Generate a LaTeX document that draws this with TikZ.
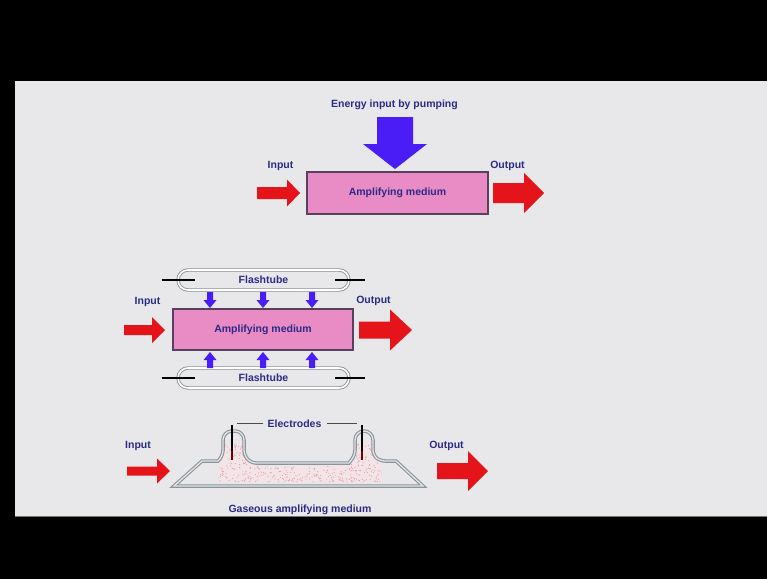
\documentclass[tikz,border=0pt]{standalone}
\usepackage{fontspec}
\setmainfont{Liberation Sans}
\usetikzlibrary{calc}

\definecolor{panel}{HTML}{E8E8EA}
\definecolor{navy}{HTML}{2B2A86}
\definecolor{mediumpink}{HTML}{E98CC6}
\definecolor{mediumedge}{HTML}{5A4060}
\definecolor{pumpred}{HTML}{E5141B}
\definecolor{pumpblue}{HTML}{4A1CF6}
\definecolor{tubegray}{HTML}{8C9399}
\definecolor{tubelight}{HTML}{E2E5E8}
\definecolor{gasfill}{HTML}{F3E4E8}
\definecolor{gasdot}{HTML}{E6A0AE}

% horizontal block arrow: colour, x start, x tip, y, shaft half-width, head half-width, head length
\newcommand{\blockH}[7]{%
  \pgfmathsetmacro\hbase{#3-#7}%
  \fill[#1] (#2,{#4-#5}) -- (\hbase,{#4-#5}) -- (\hbase,{#4-#6}) -- (#3,#4)
    -- (\hbase,{#4+#6}) -- (\hbase,{#4+#5}) -- (#2,{#4+#5}) -- cycle;}
% vertical block arrow: colour, x, y start, y tip, shaft half-width, head half-width, head length
\newcommand{\blockV}[7]{%
  \pgfmathsetmacro\vbase{#4-#7*sign(#4-#3)}%
  \fill[#1] ({#2-#5},#3) -- ({#2-#5},\vbase) -- ({#2-#6},\vbase) -- (#2,#4)
    -- ({#2+#6},\vbase) -- ({#2+#5},\vbase) -- ({#2+#5},#3) -- cycle;}

\begin{document}
\begin{tikzpicture}[x=1pt,y=-1pt,
  lbl/.style={font=\bfseries\fontsize{10.5}{12}\selectfont, text=navy, inner sep=0pt, anchor=base},
  medium/.style={draw=mediumedge, line width=1.2pt, fill=mediumpink,
    font=\bfseries\fontsize{10.5}{12}\selectfont, text=navy, inner sep=0pt},
  flashtube/.style={draw=tubegray, double=white, double distance=1.6pt, line width=0.9pt,
    rounded corners=10pt, minimum width=171pt, minimum height=20pt,
    font=\bfseries\fontsize{10.5}{12}\selectfont, text=navy, inner sep=0pt},
  lead/.style={black, line width=1.6pt},
  tube/.style={draw=tubegray, double=tubelight, double distance=1.3pt, line width=1.1pt},
  tick/.style={draw=black!70, line width=0.9pt}]

% frame and panel
\useasboundingbox (0,0) rectangle (767,579);
\fill[black] (0,0) rectangle (767,579);
\fill[panel] (15,81) rectangle (767,517);
\draw[black!55, line width=1.5pt] (15,516.5) -- (767,516.5);

% ---------- pumped amplifier ----------
\node[lbl] (energy) at (394.5,107.5) {Energy input by pumping};
\node[medium, minimum width=181pt, minimum height=42pt] (med1) at (397.5,193) {Amplifying medium};
\node[lbl] (in1) at (280.5,168.5) {Input};
\node[lbl] (out1) at (507.5,168.5) {Output};
\blockV{pumpblue}{395}{117}{169}{18}{32}{25}
\blockH{pumpred}{257}{300}{193}{6}{13.5}{13}
\blockH{pumpred}{493}{544}{193}{10}{20}{20}

% ---------- flashtube-pumped amplifier ----------
\node[flashtube] (ft1) at (263.5,280) {Flashtube};
\node[flashtube] (ft2) at (263.5,378) {Flashtube};
\foreach \t in {ft1,ft2}{
  \draw[lead] ($(\t.west)+(-16,0)$) -- ($(\t.west)+(17,0)$);
  \draw[lead] ($(\t.east)+(-14,0)$) -- ($(\t.east)+(16,0)$);
}
\node[medium, minimum width=180pt, minimum height=41pt] (med2) at (263,329.5) {Amplifying medium};
\node[lbl] (in2) at (147.5,304) {Input};
\node[lbl] (out2) at (373.5,303) {Output};
\foreach \x in {210,263,312}{
  \blockV{pumpblue}{\x}{292}{308}{3}{6.5}{8}
  \blockV{pumpblue}{\x}{368}{352}{3}{6.5}{8}
}
\blockH{pumpred}{124}{165}{330}{5}{13}{13}
\blockH{pumpred}{359}{412}{330}{8.5}{20.5}{22}

% ---------- gas discharge amplifier ----------
% gas inside the tube
\begin{scope}
  \clip (223,444) -- (243,444) -- (245,457) -- (253,466) -- (349,466) -- (356,457)
    -- (357,444) -- (372,444) -- (374,457) -- (382,470) -- (382,482) -- (218,482)
    -- (218,470) -- cycle;
  \fill[gasfill] (210,430) rectangle (390,490);
  \pgfmathsetseed{17}
  \foreach \i in {1,...,650}{
    \pgfmathsetmacro\rx{216+168*rnd}
    \pgfmathsetmacro\ry{442+42*rnd}
    \fill[gasdot] (\rx,\ry) circle (0.6);
  }
\end{scope}
% glass envelope
\draw[tube] (174,486) -- (202,461) -- (218,461)
  [rounded corners=5] -- (223,455) [rounded corners=9] -- (223,431) -- (244,431)
  [rounded corners=5] -- (244,455) -- (251,463) [sharp corners] -- (349,463)
  [rounded corners=5] -- (355,455) [rounded corners=9] -- (355,431) -- (373,431)
  [rounded corners=5] -- (373,455) -- (380,461) [sharp corners] -- (396,461)
  -- (423,486) -- cycle;
% electrodes
\coordinate (e1) at (232,425);
\coordinate (e2) at (362,425);
\foreach \e in {e1,e2}{
  \draw[black, line width=1.4pt] (\e) -- ++(0,26);
  \draw[red!45!black, line width=1.4pt] ($(\e)+(0,26)$) -- ++(0,9);
}
\node[lbl] (elec) at (294.5,427) {Electrodes};
\draw[tick] ($(elec.base west)+(-4,-3.5)$) -- ++(-26,0);
\draw[tick] ($(elec.base east)+(5,-3.5)$) -- ++(30,0);
\node[lbl] (gas) at (300,512) {Gaseous amplifying medium};
\node[lbl] (in3) at (138,448) {Input};
\node[lbl] (out3) at (446.5,448) {Output};
\blockH{pumpred}{127}{170}{471}{4.5}{12.5}{13}
\blockH{pumpred}{437}{488}{471}{8}{20}{20}

\end{tikzpicture}
\end{document}
